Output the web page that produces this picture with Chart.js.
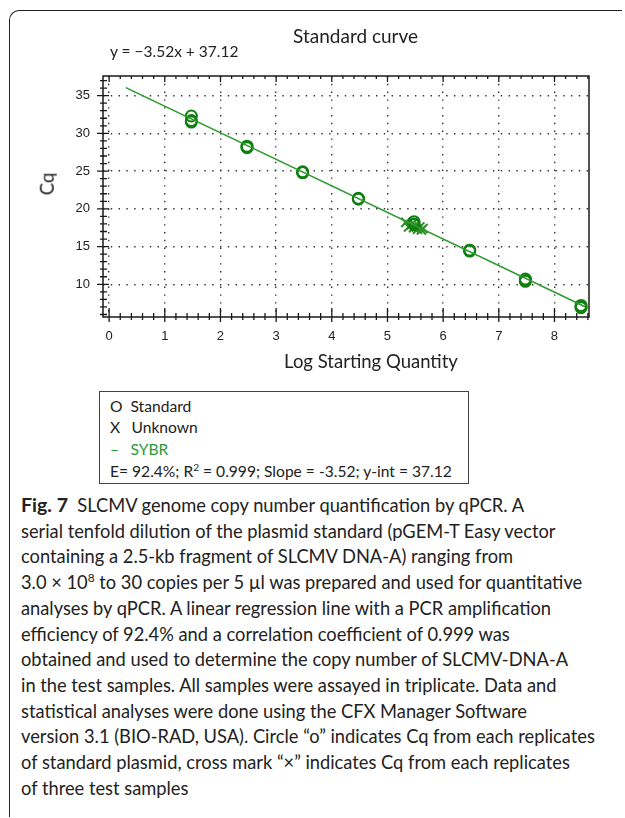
<!DOCTYPE html>
<html>
<head>
<meta charset="utf-8">
<script src="https://cdn.jsdelivr.net/npm/chart.js@4.4.1/dist/chart.umd.min.js"></script>
<style>
  html, body { margin: 0; padding: 0; background: #fff; }
  body { width: 625px; height: 818px; position: relative; overflow: hidden; color: #222; font-family: Lato, "Open Sans", sans-serif; }
  .abs { position: absolute; white-space: nowrap; line-height: 1; }
  #frame { position: absolute; left: 9px; top: 10px; width: 612px; height: 806px; border-top: 1.5px solid #222; border-left: 1.5px solid #222; border-top-left-radius: 10px; }
  #chart { position: absolute; left: 0; top: 0; }
  #legendBox { position: absolute; left: 99px; top: 391px; width: 368px; height: 91px; border: 1.3px solid #444; }
  .leg { font-size: 15.6px; }
  #caption { position: absolute; left: 21px; top: 492px; font-size: 18.3px; line-height: 25.7px; white-space: nowrap; color: #222; }
  #caption b { font-size: 19.5px; }
  sup { font-size: 0.65em; line-height: 0; }
</style>
</head>
<body>
<div id="frame"></div>
<canvas id="chart" width="625" height="390"></canvas>

<div class="abs" style="left:355.6px; top:25.5px; font-size:19px; transform:translateX(-50%);">Standard curve</div>
<div class="abs" style="left:110px; top:44px; font-size:15.5px;">y = −3.52x + 37.12</div>
<div class="abs" style="left:371px; top:352px; font-size:18.5px; transform:translateX(-50%);">Log Starting Quantity</div>
<div class="abs" style="left:47px; top:184px; font-size:18.5px; transform:translate(-50%,-50%) rotate(-90deg);">Cq</div>

<div id="legendBox"></div>
<div class="abs leg" style="left:110px; top:399.3px;">O</div>
<div class="abs leg" style="left:130.5px; top:399.3px;">Standard</div>
<div class="abs leg" style="left:110px; top:420.3px;">X</div>
<div class="abs leg" style="left:131.5px; top:420.3px;">Unknown</div>
<div class="abs leg" style="left:110px; top:442.3px; color:#2a9a3a;">–</div>
<div class="abs leg" style="left:130.5px; top:442.3px; color:#2a9a3a;">SYBR</div>
<div class="abs leg" style="left:110px; top:463.8px;">E= 92.4%; R<sup>2</sup> = 0.999; Slope = -3.52; y-int = 37.12</div>

<div id="caption"><b>Fig. 7</b>&nbsp; SLCMV genome copy number quantification by qPCR. A<br>serial tenfold dilution of the plasmid standard (pGEM-T Easy vector<br>containing a 2.5-kb fragment of SLCMV DNA-A) ranging from<br>3.0 × 10<sup>8</sup> to 30 copies per 5 µl was prepared and used for quantitative<br>analyses by qPCR. A linear regression line with a PCR amplification<br>efficiency of 92.4% and a correlation coefficient of 0.999 was<br>obtained and used to determine the copy number of SLCMV-DNA-A<br>in the test samples. All samples were assayed in triplicate. Data and<br>statistical analyses were done using the CFX Manager Software<br>version 3.1 (BIO-RAD, USA). Circle “o” indicates Cq from each replicates<br>of standard plasmid, cross mark “×” indicates Cq from each replicates<br>of three test samples</div>

<script>
// Standards (log starting quantity vs Cq)
const standardX = [1.477, 1.477, 1.477, 2.477, 2.477, 2.477, 3.477, 3.477, 3.477, 4.477, 4.477, 4.477,
                   5.477, 5.477, 5.477, 6.477, 6.477, 6.477, 7.477, 7.477, 7.477, 8.477, 8.477, 8.477];
const standardCq = [32.3, 31.7, 31.5, 28.3, 28.2, 28.1, 24.9, 24.8, 24.8, 21.4, 21.3, 21.3,
                    18.3, 18.0, 17.9, 14.5, 14.5, 14.4, 10.7, 10.5, 10.4, 7.2, 7.0, 6.9];

// Unknown test samples (crosses)
const unknownX = [5.33, 5.38, 5.43, 5.47, 5.50, 5.54, 5.58, 5.61, 5.64];
const unknownCq = [18.2, 17.6, 17.9, 17.5, 17.8, 17.3, 17.6, 17.2, 17.4];

// Regression line ends (SYBR)
const fitX = [0.3, 8.55];
const fitCq = [36.06, 7.02];

// Axis ranges and tick steps
const xRange = [-0.11, 8.62];
const yRange = [5.67, 37.6];
const xStep = 1;
const yStep = 5;

const toPoints = (xs, ys) => xs.map((v, i) => ({ x: v, y: ys[i] }));

// plot frame with crossing major/minor tick marks
const frameTicks = {
  id: 'frameTicks',
  afterDraw(chart) {
    const { ctx, chartArea: a, scales: { x, y } } = chart;
    ctx.save();
    ctx.strokeStyle = '#1a1a1a';
    ctx.lineWidth = 1.5;
    ctx.strokeRect(a.left, a.top, a.right - a.left, a.bottom - a.top);
    ctx.lineWidth = 1.3;
    ctx.beginPath();
    for (let i = 0; i <= 45; i++) {
      const px = x.getPixelForValue(i * 0.2);
      if (px < a.left + 1 || px > a.right - 1) continue;
      const major = i % 5 === 0;
      ctx.moveTo(px, a.bottom - (major ? 9 : 4));
      ctx.lineTo(px, a.bottom + (major ? 5 : 3));
      ctx.moveTo(px, a.top);
      ctx.lineTo(px, a.top + (major ? 6 : 3));
    }
    for (let v = 5; v <= 38; v++) {
      const py = y.getPixelForValue(v);
      if (py < a.top + 1 || py > a.bottom - 1) continue;
      const major = v % 5 === 0;
      ctx.moveTo(a.left - (major ? 6 : 3), py);
      ctx.lineTo(a.left + (major ? 6 : 4), py);
    }
    ctx.stroke();
    ctx.restore();
  }
};

const tickFont = { family: '"Liberation Sans", Arial, sans-serif', size: 13 };

new Chart(document.getElementById('chart'), {
  data: {
    datasets: [{
      type: 'line',
      label: 'SYBR',
      data: toPoints(fitX, fitCq),
      borderColor: '#2f9a2f',
      borderWidth: 1.6,
      pointRadius: 0,
      fill: false
    }, {
      type: 'scatter',
      label: 'Standard',
      data: toPoints(standardX, standardCq),
      pointStyle: 'circle',
      pointRadius: 5.5,
      borderWidth: 2,
      borderColor: '#107f10',
      backgroundColor: 'rgba(0,0,0,0)'
    }, {
      type: 'scatter',
      label: 'Unknown',
      data: toPoints(unknownX, unknownCq),
      pointStyle: 'crossRot',
      pointRadius: 6.5,
      borderWidth: 2,
      borderColor: '#2a8f2a'
    }]
  },
  plugins: [frameTicks],
  options: {
    responsive: false,
    animation: false,
    devicePixelRatio: 1,
    layout: { padding: { top: 76, right: 36, bottom: 43, left: 0 } },
    plugins: { legend: { display: false }, tooltip: { enabled: false } },
    scales: {
      x: {
        type: 'linear',
        min: xRange[0],
        max: xRange[1],
        afterFit: (s) => { s.height = 30; },
        ticks: { stepSize: xStep, includeBounds: false, font: tickFont, color: '#222', padding: 12, maxRotation: 0 },
        grid: { color: '#333', lineWidth: 1.4, drawTicks: false },
        border: { display: false, dash: [1.4, 6.4] }
      },
      y: {
        type: 'linear',
        min: yRange[0],
        max: yRange[1],
        afterFit: (s) => { s.width = 103; },
        ticks: { stepSize: yStep, includeBounds: false, font: tickFont, color: '#222', padding: 13 },
        grid: { color: '#333', lineWidth: 1.4, drawTicks: false },
        border: { display: false, dash: [1.4, 6.4] }
      }
    }
  }
});
</script>
</body>
</html>
